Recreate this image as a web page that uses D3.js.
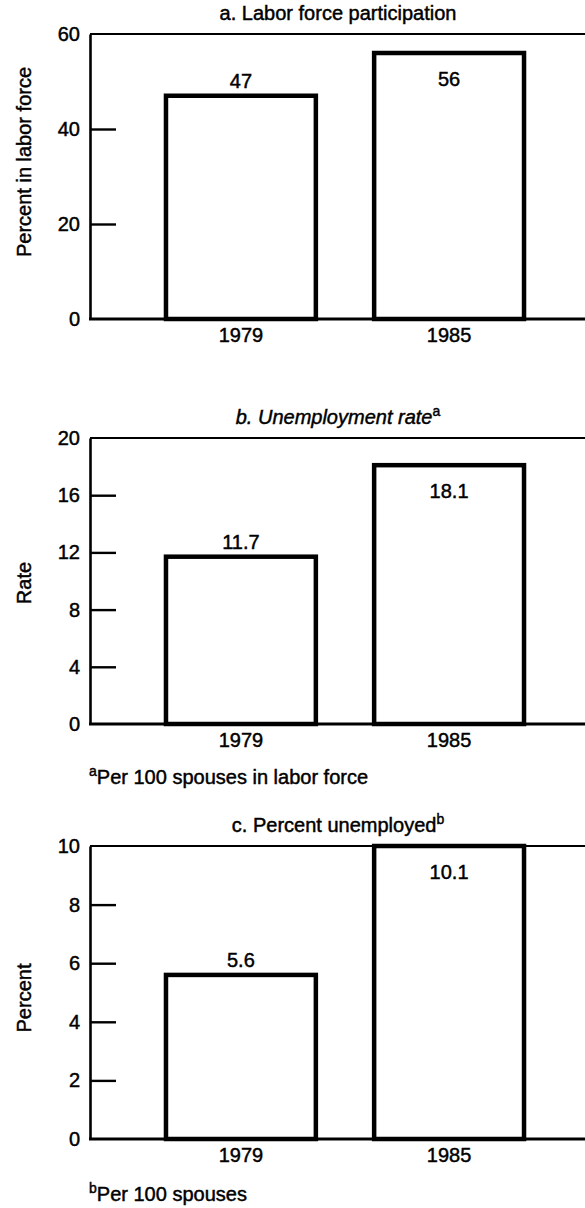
<!DOCTYPE html>
<html>
<head>
<meta charset="utf-8">
<script src="https://cdn.jsdelivr.net/npm/d3@7"></script>
<style>
  body { margin: 0; background: #fff; }
  text { font-family: "Liberation Sans", Arial, sans-serif; fill: #000; stroke: #000; stroke-width: 0.45px; }
</style>
</head>
<body>
<svg id="chart"></svg>
<script>
// data
var years = ["1979", "1985"];
var laborValues = [47, 56];
var rateValues = [11.7, 18.1];
var pctValues = [5.6, 10.1];
var laborTicks = [0, 20, 40, 60];
var rateTicks = [0, 4, 8, 12, 16, 20];
var pctTicks = [0, 2, 4, 6, 8, 10];
var titles = ["a. Labor force participation", "b. Unemployment rate", "c. Percent unemployed"];
var titleNotes = ["", "a", "b"];
var yTitles = ["Percent in labor force", "Rate", "Percent"];
var footMarks = ["", "a", "b"];
var footTexts = ["", "Per 100 spouses in labor force", "Per 100 spouses"];

var svgWidth = 585, svgHeight = 1208;
var axisX = 90, rightEdge = 585;
var fontSize = "20px", noteSize = "14px";

var svg = d3.select("#chart")
    .attr("width", svgWidth)
    .attr("height", svgHeight);

var panels = [
    {values: laborValues, ticks: laborTicks, top: 34, bottom: 319, italic: false, yMid: 162},
    {values: rateValues, ticks: rateTicks, top: 438, bottom: 724, italic: true, yMid: 583},
    {values: pctValues, ticks: pctTicks, top: 846, bottom: 1139, italic: false, yMid: 998}
];

var x = d3.scaleBand()
    .domain(years)
    .range([axisX, 600])
    .paddingInner(0.28)
    .paddingOuter(0.365);

panels.forEach(function (p, i) {
    var g = svg.append("g");
    var maxV = d3.max(p.ticks);

    var y = d3.scaleLinear()
        .domain([0, maxV])
        .range([p.bottom, p.top])
        .clamp(true);

    // title
    var t = g.append("text")
        .attr("x", 338)
        .attr("y", p.top - 14)
        .attr("text-anchor", "middle")
        .style("font-size", fontSize)
        .style("font-style", p.italic ? "italic" : "normal")
        .text(titles[i]);
    if (titleNotes[i]) {
        t.append("tspan")
            .attr("dy", -8)
            .style("font-size", noteSize)
            .style("font-style", "normal")
            .text(titleNotes[i]);
    }

    // top frame line
    g.append("line")
        .attr("x1", axisX).attr("x2", rightEdge)
        .attr("y1", y(maxV)).attr("y2", y(maxV))
        .attr("stroke", "#000").attr("stroke-width", 2.2);

    // bars
    g.selectAll("rect.bar")
        .data(p.values)
        .enter()
        .append("rect")
        .attr("class", "bar")
        .attr("x", function (d, j) { return x(years[j]); })
        .attr("y", function (d) { return y(d); })
        .attr("width", x.bandwidth())
        .attr("height", function (d) { return p.bottom - y(d); })
        .attr("fill", "#fff")
        .attr("stroke", "#000")
        .attr("stroke-width", 4.5);

    // value labels: above the bar, or inside when it reaches the frame
    g.selectAll("text.val")
        .data(p.values)
        .enter()
        .append("text")
        .attr("class", "val")
        .attr("x", function (d, j) { return x(years[j]) + x.bandwidth() / 2; })
        .attr("y", function (d) {
            return d / maxV > 0.85 ? y(d) + 33 : y(d) - 8;
        })
        .attr("text-anchor", "middle")
        .style("font-size", fontSize)
        .text(function (d) { return d; });

    // y axis
    var yAxis = d3.axisLeft(y)
        .tickValues(p.ticks)
        .tickSizeInner(-26)
        .tickSizeOuter(0)
        .tickPadding(10);
    var ya = g.append("g")
        .attr("transform", "translate(" + axisX + ",0)")
        .call(yAxis);
    ya.select(".domain").attr("stroke-width", 2.6);
    ya.selectAll(".tick line").attr("stroke-width", 2.4);
    ya.selectAll(".tick text")
        .style("font-size", fontSize)
        .style("font-family", "'Liberation Sans', Arial, sans-serif");
    ya.selectAll(".tick").filter(function (d) { return d === 0 || d === maxV; })
        .select("line").remove();

    // baseline
    g.append("line")
        .attr("x1", axisX - 1).attr("x2", rightEdge)
        .attr("y1", p.bottom).attr("y2", p.bottom)
        .attr("stroke", "#000").attr("stroke-width", 3);

    // x axis labels
    var xAxis = d3.axisBottom(x).tickSize(0).tickPadding(9);
    var xa = g.append("g")
        .attr("transform", "translate(0," + p.bottom + ")")
        .call(xAxis);
    xa.select(".domain").remove();
    xa.selectAll(".tick text")
        .style("font-size", fontSize)
        .style("font-family", "'Liberation Sans', Arial, sans-serif");

    // y title
    g.append("text")
        .attr("transform", "translate(31," + p.yMid + ") rotate(-90)")
        .attr("text-anchor", "middle")
        .style("font-size", fontSize)
        .text(yTitles[i]);

    // footnote
    if (footTexts[i]) {
        var f = g.append("text")
            .attr("x", axisX - 1)
            .attr("y", p.bottom + (i === 1 ? 60 : 62))
            .style("font-size", fontSize);
        f.append("tspan").attr("dy", -8).style("font-size", noteSize).text(footMarks[i]);
        f.append("tspan").attr("dy", 8).text(footTexts[i]);
    }
});
</script>
</body>
</html>
